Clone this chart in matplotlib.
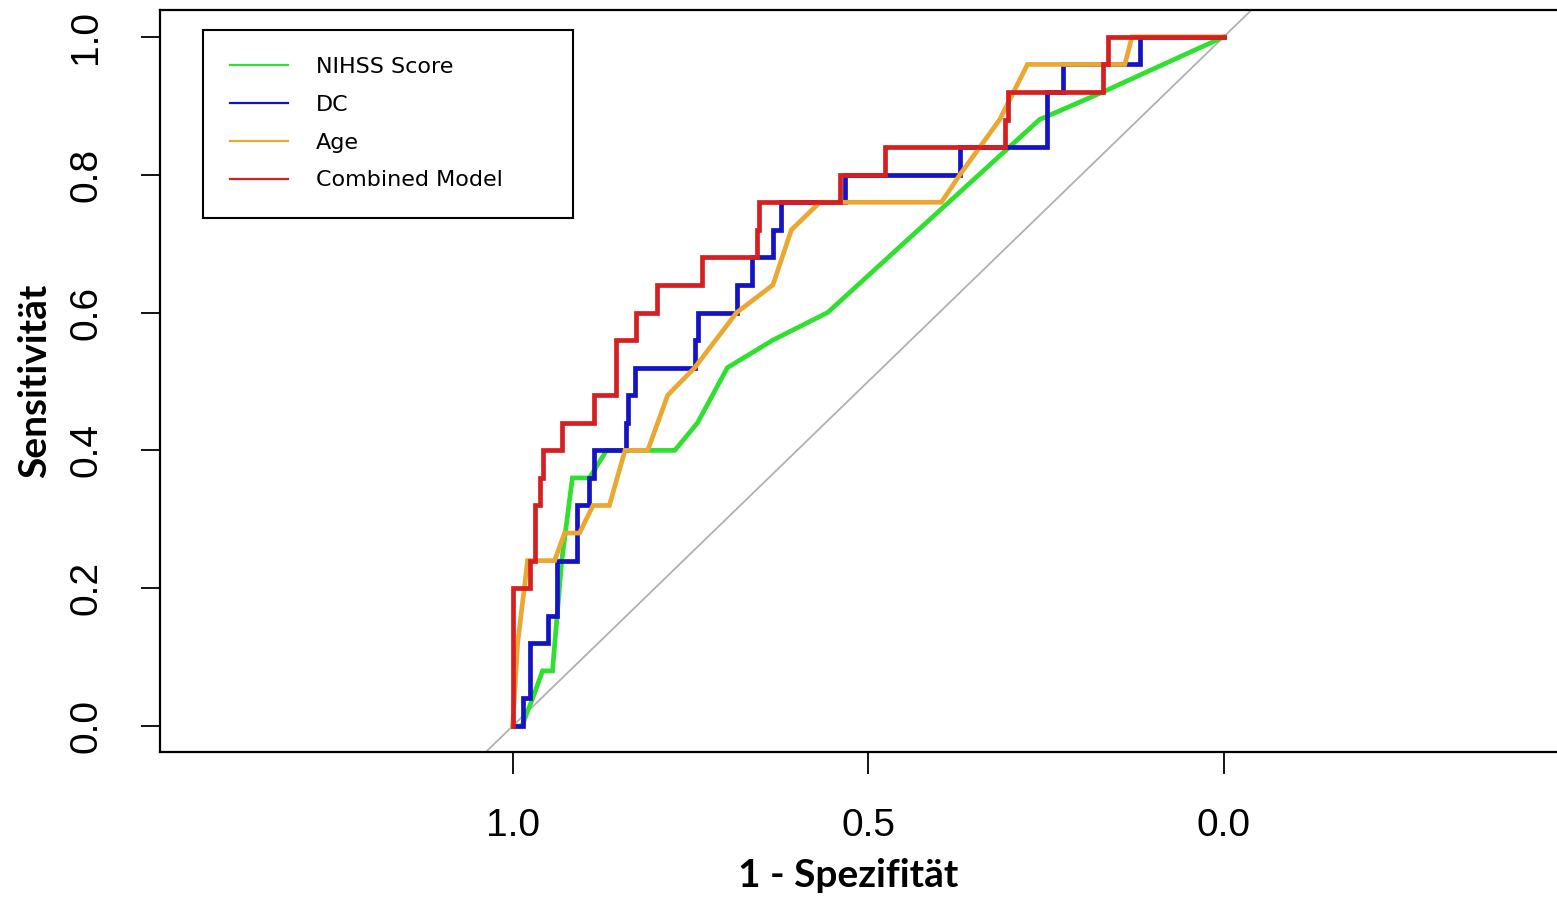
import matplotlib
matplotlib.use("Agg")
import matplotlib.pyplot as plt

# ROC curve vertices (specificity, sensitivity)
nihss_spec = [1.0, 0.987, 0.972, 0.958, 0.944, 0.931, 0.916, 0.892, 0.868, 0.772,
              0.740, 0.698, 0.634, 0.557, 0.259, 0.170, 0.0]
nihss_sens = [0, 0, 0.04, 0.08, 0.08, 0.24, 0.36, 0.36, 0.40, 0.40,
              0.44, 0.52, 0.56, 0.60, 0.88, 0.92, 1.0]

dc_spec = [1.0, 0.986, 0.986, 0.976, 0.976, 0.951, 0.951, 0.938, 0.938, 0.909,
           0.909, 0.892, 0.892, 0.885, 0.885, 0.840, 0.840, 0.838, 0.838, 0.828,
           0.828, 0.744, 0.744, 0.740, 0.740, 0.685, 0.685, 0.664, 0.664, 0.634,
           0.634, 0.622, 0.622, 0.533, 0.533, 0.371, 0.371, 0.249, 0.249, 0.226,
           0.226, 0.118, 0.118, 0.0]
dc_sens = [0, 0, 0.04, 0.04, 0.12, 0.12, 0.16, 0.16, 0.24, 0.24,
           0.32, 0.32, 0.36, 0.36, 0.40, 0.40, 0.44, 0.44, 0.48, 0.48,
           0.52, 0.52, 0.56, 0.56, 0.60, 0.60, 0.64, 0.64, 0.68, 0.68,
           0.72, 0.72, 0.76, 0.76, 0.80, 0.80, 0.84, 0.84, 0.92, 0.92,
           0.96, 0.96, 1.0, 1.0]

age_spec = [1.0, 0.993, 0.979, 0.941, 0.927, 0.906, 0.887, 0.864, 0.842, 0.810,
            0.782, 0.744, 0.685, 0.634, 0.608, 0.568, 0.397, 0.371, 0.315, 0.276,
            0.139, 0.129, 0.0]
age_sens = [0, 0.12, 0.24, 0.24, 0.28, 0.28, 0.32, 0.32, 0.40, 0.40,
            0.48, 0.52, 0.60, 0.64, 0.72, 0.76, 0.76, 0.80, 0.88, 0.96,
            0.96, 1.0, 1.0]

comb_spec = [1.0, 1.0, 0.976, 0.976, 0.969, 0.969, 0.968, 0.968, 0.961, 0.961,
             0.958, 0.958, 0.930, 0.930, 0.885, 0.885, 0.854, 0.854, 0.826, 0.826,
             0.797, 0.797, 0.734, 0.734, 0.657, 0.657, 0.653, 0.653, 0.540, 0.540,
             0.477, 0.477, 0.307, 0.307, 0.304, 0.304, 0.170, 0.170, 0.163, 0.163,
             0.0]
comb_sens = [0, 0.20, 0.20, 0.24, 0.24, 0.28, 0.28, 0.32, 0.32, 0.36,
             0.36, 0.40, 0.40, 0.44, 0.44, 0.48, 0.48, 0.56, 0.56, 0.60,
             0.60, 0.64, 0.64, 0.68, 0.68, 0.72, 0.72, 0.76, 0.76, 0.80,
             0.80, 0.84, 0.84, 0.88, 0.88, 0.92, 0.92, 0.96, 0.96, 1.0,
             1.0]

labels = ["NIHSS Score", "DC", "Age", "Combined Model"]
colors = ["#2fe02f", "#1414c4", "#eaa832", "#d62020"]

fig = plt.figure(figsize=(15.57, 8.99), dpi=100)
W, H = 1557, 899
ax = fig.add_axes([160 / W, (H - 752) / H, (1565 - 160) / W, (752 - 10) / H])

# chance diagonal
ax.plot([1.6, -0.6], [-0.6, 1.6], color="#b0b0b0", lw=1.3, zorder=1)

curves = [(nihss_spec, nihss_sens), (dc_spec, dc_sens),
          (age_spec, age_sens), (comb_spec, comb_sens)]
for (sp, se), col, lab in zip(curves, colors, labels):
    ax.plot(sp, se, color=col, lw=3.4, label=lab, solid_joinstyle="miter")

ax.set_xlim(1.496, -0.48)
ax.set_ylim(-0.0377, 1.039)

tick_font = "Liberation Sans"
ax.set_xticks([1.0, 0.5, 0.0])
ax.set_xticklabels(["1.0", "0.5", "0.0"], fontsize=28, family=tick_font)
ax.set_yticks([0.0, 0.2, 0.4, 0.6, 0.8, 1.0])
ax.set_yticklabels(["0.0", "0.2", "0.4", "0.6", "0.8", "1.0"], fontsize=28,
                   family=tick_font, rotation=90, va="center")
ax.tick_params(axis="x", length=16, width=1.3, pad=24)
ax.tick_params(axis="y", length=14, width=1.3, pad=26)
for s in ax.spines.values():
    s.set_linewidth(1.6)

ax.set_xlabel("1 - Spezifität", fontsize=28, fontweight="bold", family="Lato")
ax.set_ylabel("Sensitivität", fontsize=28, fontweight="bold", family="Lato")
ax.xaxis.set_label_coords((848 - 160) / 1405, -0.143)
ax.yaxis.set_label_coords(-0.077, 0.5)

leg_handles = [plt.Line2D([], [], color=c, lw=1.6) for c in colors]
leg = ax.legend(leg_handles, labels, loc="upper left",
                bbox_to_anchor=(203 / W, 1 - 213 / H, 370 / W, 183 / H),
                bbox_transform=fig.transFigure, mode="expand",
                prop={"family": "DejaVu Sans", "size": 16},
                frameon=True, fancybox=False, edgecolor="black", framealpha=1,
                borderpad=1.22, labelspacing=0.8, handlelength=2.6,
                handletextpad=1.25, borderaxespad=0)
leg.get_frame().set_linewidth(1.5)

fig.savefig("out.png", dpi=100)
